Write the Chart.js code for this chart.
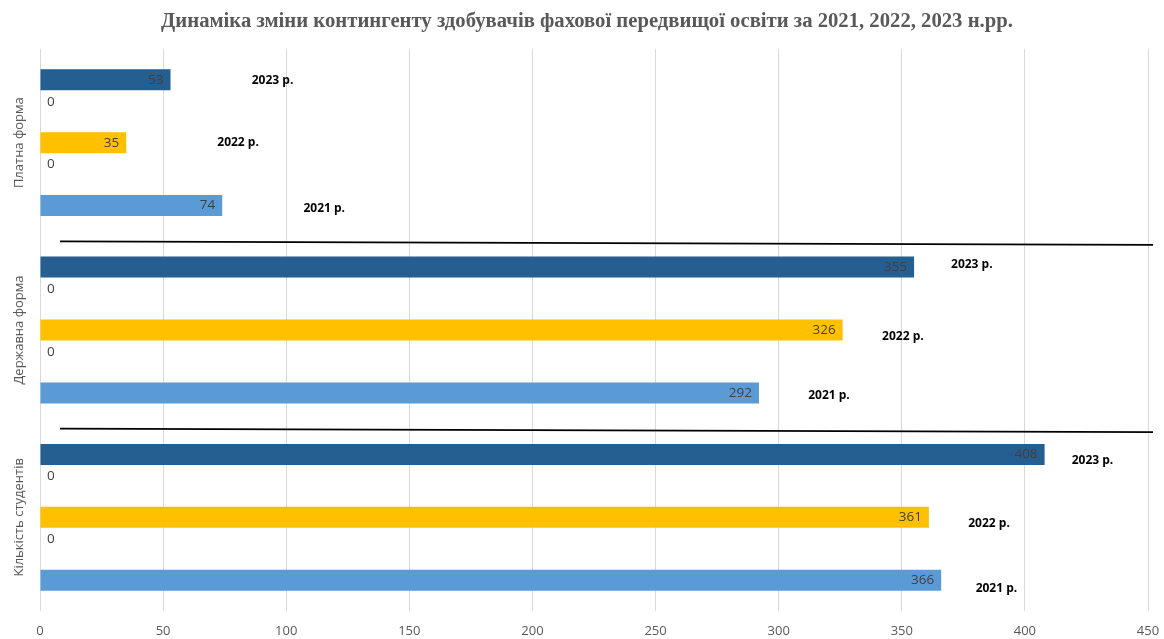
<!DOCTYPE html>
<html>
<head>
<meta charset="utf-8">
<script src="https://cdn.jsdelivr.net/npm/chart.js@4.4.0/dist/chart.umd.min.js"></script>
<style>
  html, body { margin: 0; padding: 0; background: #fff; }
  #wrap { width: 1164px; height: 639px; position: relative; }
</style>
</head>
<body>
<div id="wrap"><canvas id="contingentChart"></canvas></div>
<script>
// ===== Data =====
const titleText = 'Динаміка зміни контингенту здобувачів фахової передвищої освіти за 2021, 2022, 2023 н.рр.';
const categories = ['Платна форма', 'Державна форма', 'Кількість студентів'];
const yearNames = ['2023 р.', '2022 р.', '2021 р.'];
const values2023 = [53, 355, 408];
const values2022 = [35, 326, 361];
const values2021 = [74, 292, 366];
const emptyValues = [0, 0, 0];   // blank series between the years
const xTicks = [0, 50, 100, 150, 200, 250, 300, 350, 400, 450];

// where the free "2023 р." text boxes sit, in axis units (per year, per category)
const tagAt = [
  [86, 370, 419],
  [72, 342, 377],
  [107, 312, 380]
];
const tagShift = [
  [1, -2, 6],
  [0, 7, 6],
  [3, 3, 8]
];

const colors = ['#255e91', '#ffc000', '#5b9bd5'];
const yearSets = [0, 2, 4];

// ===== Extra drawing: title, labels, tags, separators =====
const extras = {
  id: 'extras',
  afterDatasetsDraw(chart) {
    const { ctx, chartArea, scales } = chart;
    const x = scales.x, y = scales.y;
    ctx.save();

    // title
    ctx.font = 'bold 20.7px "Liberation Serif"';
    ctx.fillStyle = '#595959';
    ctx.textAlign = 'center';
    ctx.textBaseline = 'middle';
    ctx.fillText(titleText, 587, 22);

    // value labels
    chart.data.datasets.forEach((ds, i) => {
      const meta = chart.getDatasetMeta(i);
      meta.data.forEach((bar, j) => {
        const v = ds.data[j];
        ctx.fillStyle = '#404040';
        ctx.font = '13.5px "Open Sans"';
        if (v > 0) {
          ctx.textAlign = 'right';
          ctx.fillText(String(v), bar.x - 7, bar.y);
        } else {
          ctx.textAlign = 'left';
          ctx.fillText('0', bar.x + 7, bar.y - 9.5);
        }
      });
    });

    // year tags
    ctx.font = 'bold 12px "Open Sans"';
    ctx.fillStyle = '#000';
    ctx.textAlign = 'left';
    yearSets.forEach((dsIndex, k) => {
      const meta = chart.getDatasetMeta(dsIndex);
      meta.data.forEach((bar, j) => {
        ctx.fillText(yearNames[k], x.getPixelForValue(tagAt[k][j]), bar.y + tagShift[k][j]);
      });
    });

    // separator lines between groups
    ctx.strokeStyle = '#000';
    ctx.lineWidth = 1.8;
    for (let j = 0; j < categories.length - 1; j++) {
      const edge = (y.getPixelForValue(j) + y.getPixelForValue(j + 1)) / 2;
      ctx.beginPath();
      ctx.moveTo(chartArea.left + 20, edge + 5);
      ctx.lineTo(chartArea.right + 5, edge + 8.5);
      ctx.stroke();
    }

    // group names, rotated
    ctx.font = '13px "Open Sans"';
    ctx.fillStyle = '#595959';
    ctx.textAlign = 'center';
    categories.forEach((name, j) => {
      ctx.save();
      ctx.translate(19, y.getPixelForValue(j));
      ctx.rotate(-Math.PI / 2);
      ctx.fillText(name, 0, 0);
      ctx.restore();
    });

    ctx.restore();
  }
};

// ===== Chart =====
const ctx = document.getElementById('contingentChart');
new Chart(ctx, {
  type: 'bar',
  data: {
    labels: categories,
    datasets: [
      { label: yearNames[0], data: values2023, backgroundColor: colors[0] },
      { label: '', data: emptyValues, backgroundColor: 'transparent' },
      { label: yearNames[1], data: values2022, backgroundColor: colors[1] },
      { label: '', data: emptyValues, backgroundColor: 'transparent' },
      { label: yearNames[2], data: values2021, backgroundColor: colors[2] }
    ]
  },
  options: {
    indexAxis: 'y',
    responsive: true,
    maintainAspectRatio: false,
    animation: false,
    layout: { padding: { left: 40, right: 16, top: 49, bottom: 0 } },
    datasets: {
      bar: { categoryPercentage: 0.84, barPercentage: 0.667 }
    },
    scales: {
      x: {
        min: 0,
        max: 450,
        afterBuildTicks: scale => { scale.ticks = xTicks.map(v => ({ value: v })); },
        afterFit: scale => {
          // tighter box than Chart.js gives by default
          scale.height = 28;
          scale.paddingRight = 11;
        },
        grid: { color: '#d9d9d9', drawTicks: false },
        border: { display: false },
        ticks: { color: '#595959', font: { family: 'Open Sans', size: 13 }, padding: 12 }
      },
      y: { display: false }
    },
    plugins: {
      legend: { display: false },
      tooltip: { enabled: false },
      title: { display: false }
    }
  },
  plugins: [extras]
});
</script>
</body>
</html>
